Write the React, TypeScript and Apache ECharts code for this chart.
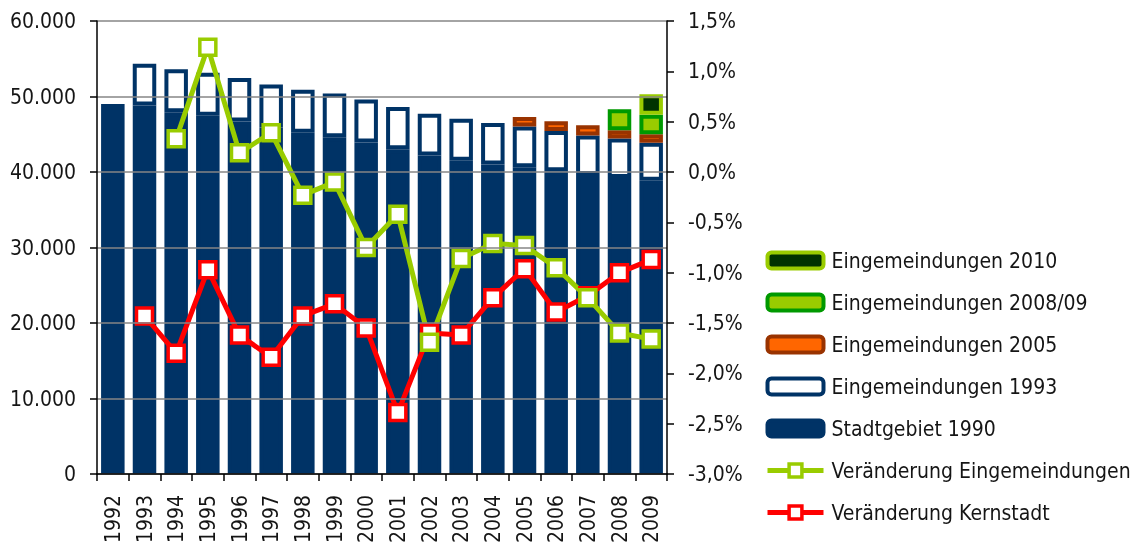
import React, { useEffect, useRef } from "react";
import * as echarts from "echarts";

const years = ["1992","1993","1994","1995","1996","1997","1998","1999","2000","2001","2002","2003","2004","2005","2006","2007","2008","2009"];

const stadtgebiet1990 = [49000, 48800, 47900, 47450, 46700, 45900, 45200, 44600, 43900, 43000, 42200, 41500, 41000, 40620, 40090, 39600, 39210, 38850];
const eingemeindungen1993 = [null, 5550, 5700, 5700, 5750, 5700, 5700, 5800, 5700, 5600, 5500, 5550, 5500, 5410, 5340, 5230, 5230, 5020];
const eingemeindungen2005 = [null, null, null, null, null, null, null, null, null, null, null, null, null, 1270, 1290, 1360, 1100, 1140];
const eingemeindungen200809 = [null, null, null, null, null, null, null, null, null, null, null, null, null, null, null, null, 2760, 2570];
const eingemeindungen2010 = [null, null, null, null, null, null, null, null, null, null, null, null, null, null, null, null, null, 2710];

const veraenderungEingemeindungen = [null, null, 0.33, 1.24, 0.19, 0.39, -0.23, -0.10, -0.75, -0.42, -1.69, -0.86, -0.71, -0.73, -0.95, -1.25, -1.60, -1.66];
const veraenderungKernstadt = [null, -1.43, -1.80, -0.97, -1.62, -1.84, -1.43, -1.31, -1.55, -2.39, -1.60, -1.62, -1.25, -0.96, -1.39, -1.23, -1.00, -0.87];

const FONT = "'DejaVu Sans Condensed', 'Liberation Sans Narrow', sans-serif";
const TEXT = "#151515";
const FS = 21;

export default function App() {
  const ref = useRef<HTMLDivElement>(null);
  useEffect(() => {
    if (!ref.current) return;
    const chart = echarts.init(ref.current, null, { renderer: "svg" });
    const barW = 23.5;
    const bw = 4;
    const bar = (name: string, data: any[], color: string, border: string) => ({
      name,
      type: "bar",
      stack: "a",
      yAxisIndex: 0,
      barWidth: barW,
      data,
      itemStyle: { color, borderColor: border, borderWidth: bw },
      emphasis: { disabled: true },
    });
    const line = (name: string, data: any[], color: string) => ({
      name,
      type: "line",
      yAxisIndex: 1,
      data,
      symbol: "rect",
      symbolSize: 16,
      showAllSymbol: true,
      lineStyle: { color, width: 5 },
      itemStyle: { color: "#ffffff", borderColor: color, borderWidth: 3.5 },
      emphasis: { disabled: true },
      z: 4,
    });
    chart.setOption({
      animation: false,
      textStyle: { fontFamily: FONT },
      grid: { left: 97, right: 477, top: 21, bottom: 70, containLabel: false, outerBoundsMode: "none" },
      legend: {
        orient: "vertical",
        left: 760,
        top: 243,
        itemWidth: 56,
        itemHeight: 16,
        itemGap: 17,
        selectedMode: false,
        itemStyle: { borderWidth: "inherit" },
        lineStyle: { width: "inherit" },
        textStyle: { fontFamily: FONT, fontSize: FS, lineHeight: 25, color: TEXT, padding: [0, 0, 0, 3] },
        data: [
          "Eingemeindungen 2010",
          "Eingemeindungen 2008/09",
          "Eingemeindungen 2005",
          "Eingemeindungen 1993",
          "Stadtgebiet 1990",
          "Veränderung Eingemeindungen",
          "Veränderung Kernstadt",
        ],
      },
      xAxis: {
        type: "category",
        data: years,
        z: 5,
        axisLine: { lineStyle: { color: "#000", width: 1.5 } },
        axisTick: { show: true, length: 7, alignWithLabel: false, lineStyle: { color: "#000", width: 1.5 } },
        axisLabel: { rotate: 90, margin: 21, fontSize: FS, color: TEXT, fontFamily: FONT, interval: 0 },
      },
      yAxis: [
        {
          type: "value",
          position: "left",
          min: 0,
          max: 60000,
          interval: 10000,
          z: 5,
          axisLine: { show: true, lineStyle: { color: "#000", width: 1.5 } },
          axisTick: { show: true, length: 7, lineStyle: { color: "#000", width: 1.5 } },
          axisLabel: {
            margin: 21,
            fontSize: FS,
            color: TEXT,
            fontFamily: FONT,
            formatter: (v: number) => (v === 0 ? "0" : `${Math.round(v / 1000)}.000`),
          },
          splitLine: { show: true, lineStyle: { color: "#868686", width: 1.5 } },
        },
        {
          type: "value",
          position: "right",
          min: -3,
          max: 1.5,
          interval: 0.5,
          z: 5,
          axisLine: { show: true, lineStyle: { color: "#000", width: 1.5 } },
          axisTick: { show: true, length: 7, lineStyle: { color: "#000", width: 1.5 } },
          axisLabel: {
            margin: 21,
            fontSize: FS,
            color: TEXT,
            fontFamily: FONT,
            formatter: (v: number) => `${v.toFixed(1).replace(".", ",")}%`,
          },
          splitLine: { show: false },
        },
      ],
      graphic: [
        {
          type: "rect",
          z: 3,
          silent: true,
          shape: { x: 96, y: 474.5, width: 572, height: 4 },
          style: { fill: "#ffffff" },
        },
      ],
      series: [
        bar("Stadtgebiet 1990", stadtgebiet1990, "#003366", "#003366"),
        bar("Eingemeindungen 1993", eingemeindungen1993, "#ffffff", "#003366"),
        bar("Eingemeindungen 2005", eingemeindungen2005, "#FF6600", "#993300"),
        bar("Eingemeindungen 2008/09", eingemeindungen200809, "#99CC00", "#009900"),
        bar("Eingemeindungen 2010", eingemeindungen2010, "#003300", "#99CC00"),
        line("Veränderung Kernstadt", veraenderungKernstadt, "#FF0000"),
        line("Veränderung Eingemeindungen", veraenderungEingemeindungen, "#99CC00"),
      ],
    });
    return () => chart.dispose();
  }, []);
  return <div ref={ref} style={{ position: "fixed", left: 0, top: 0, width: 1144, height: 544 }} />;
}
